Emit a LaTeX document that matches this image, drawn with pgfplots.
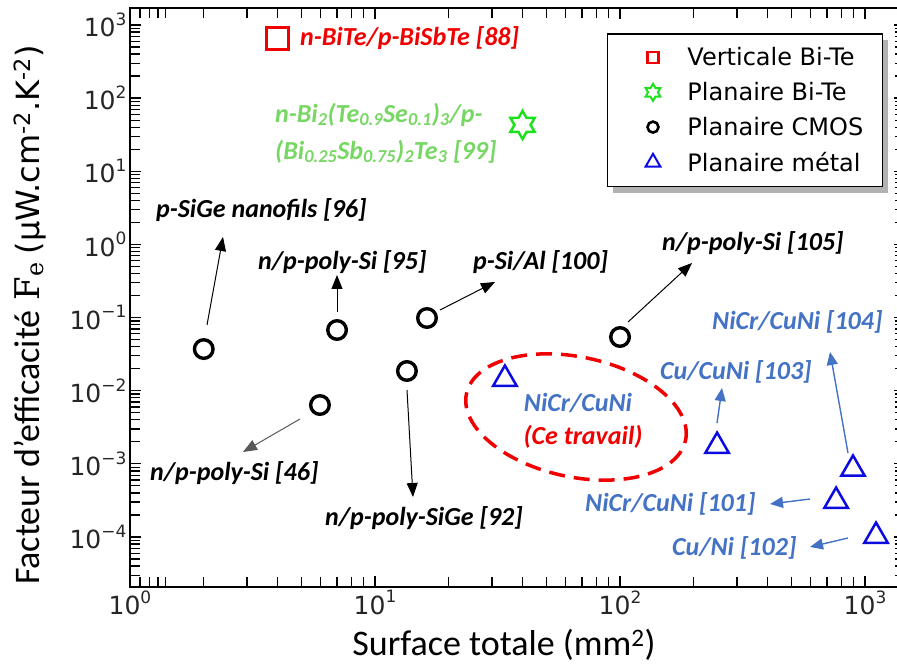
\documentclass[border=0pt]{standalone}
\usepackage{fontspec}
\usepackage{pgfplots}
\pgfplotsset{compat=1.18}
\usetikzlibrary{arrows.meta,shadows}
\setmainfont{DejaVu Sans}
\newfontfamily\carl{Carlito}
\newfontfamily\dvs{DejaVu Sans}
\newfontfamily\dvserif{DejaVu Serif}

\definecolor{mred}{RGB}{240,0,0}
\definecolor{mgreen}{RGB}{30,225,30}
\definecolor{lgreen}{RGB}{120,215,100}
\definecolor{mblue}{RGB}{10,10,225}
\definecolor{tblue}{RGB}{68,114,196}

\pgfdeclareplotmark{hexagram}{%
  \pgfpathmoveto{\pgfpointpolar{90}{\pgfplotmarksize}}%
  \pgfpathlineto{\pgfpointpolar{120}{0.5774*\pgfplotmarksize}}%
  \pgfpathlineto{\pgfpointpolar{150}{\pgfplotmarksize}}%
  \pgfpathlineto{\pgfpointpolar{180}{0.5774*\pgfplotmarksize}}%
  \pgfpathlineto{\pgfpointpolar{210}{\pgfplotmarksize}}%
  \pgfpathlineto{\pgfpointpolar{240}{0.5774*\pgfplotmarksize}}%
  \pgfpathlineto{\pgfpointpolar{270}{\pgfplotmarksize}}%
  \pgfpathlineto{\pgfpointpolar{300}{0.5774*\pgfplotmarksize}}%
  \pgfpathlineto{\pgfpointpolar{330}{\pgfplotmarksize}}%
  \pgfpathlineto{\pgfpointpolar{0}{0.5774*\pgfplotmarksize}}%
  \pgfpathlineto{\pgfpointpolar{30}{\pgfplotmarksize}}%
  \pgfpathlineto{\pgfpointpolar{60}{0.5774*\pgfplotmarksize}}%
  \pgfpathclose
  \pgfusepathqstroke
}

\newcommand\tl[1]{10\raisebox{0.45em}{\fontsize{17}{17}\selectfont #1}}
\newcommand\ann{\carl\bfseries\itshape\fontsize{26}{37}\selectfont}

\begin{document}
\begin{tikzpicture}
\begin{axis}[
  at={(130pt,79pt)}, anchor=south west,
  scale only axis, width=775pt, height=579pt,
  xmode=log, ymode=log,
  xmin=1, xmax=1456, ymin=2.07e-5, ymax=1708,
  axis line style={line width=1.8pt},
  tick style={line width=1.3pt, black},
  major tick length=11pt, minor tick length=10pt,
  tick align=inside,
  xtick={1,10,100,1000}, xticklabels={\tl{0},\tl{1},\tl{2},\tl{3}},
  minor xtick={1.1,1.2,1.3,1.4,2,3,4,5,6,7,8,9,20,30,40,50,60,70,80,90,200,300,400,500,600,700,800,900},
  ytick={1e-4,1e-3,1e-2,1e-1,1,10,100,1000},
  yticklabels={\tl{−4},\tl{−3},\tl{−2},\tl{−1},\tl{0},\tl{1},\tl{2},\tl{3}},
  minor ytick={3e-5,4e-5,5e-5,6e-5,7e-5,8e-5,9e-5,2e-4,3e-4,4e-4,5e-4,6e-4,7e-4,8e-4,9e-4,2e-3,3e-3,4e-3,5e-3,6e-3,7e-3,8e-3,9e-3,0.02,0.03,0.04,0.05,0.06,0.07,0.08,0.09,0.2,0.3,0.4,0.5,0.6,0.7,0.8,0.9,2,3,4,5,6,7,8,9,20,30,40,50,60,70,80,90,200,300,400,500,600,700,800,900},
  tick label style={font=\dvs\fontsize{25}{30}\selectfont, text=black!85},
  legend cell align=left,
  legend image code/.code={\pgfpathmoveto{\pgfqpoint{0pt}{0pt}}\pgfpathmoveto{\pgfqpoint{61pt}{0pt}}\pgfusepath{}\draw[#1] plot coordinates {(28.5pt,0pt)};},
  legend style={at={(0.9716,0.9568)}, anchor=north east, draw=black, line width=1.5pt, fill=white,
    drop shadow={shadow xshift=6pt, shadow yshift=-6pt, fill=black!30, opacity=1},
    font=\dvs\fontsize{24}{28}\selectfont, inner xsep=17pt, inner ysep=12pt, row sep=11pt},
]
\addlegendimage{only marks, mark=square, mark size=5.5pt, draw=mred, mark options={line width=2.2pt}}
\addlegendentry{Verticale Bi-Te}
\addlegendimage{only marks, mark=hexagram, mark size=8.5pt, draw=mgreen, mark options={line width=2pt}}
\addlegendentry{Planaire Bi-Te}
\addlegendimage{only marks, mark=o, mark size=5.5pt, draw=black, mark options={line width=2.6pt}}
\addlegendentry{Planaire CMOS}
\addlegendimage{only marks, mark=triangle, mark size=8.5pt, draw=mblue, mark options={line width=2pt}}
\addlegendentry{Planaire métal}

\addplot[only marks, mark=square, mark size=11pt, draw=mred, mark options={line width=3pt}, forget plot] coordinates {(4.0,660)};
\addplot[only marks, mark=hexagram, mark size=14pt, draw=mgreen, mark options={line width=2.5pt}, forget plot] coordinates {(40,43)};
\addplot[only marks, mark=o, mark size=9.3pt, draw=black, mark options={line width=3.4pt}, forget plot] coordinates {(2.0,0.0371) (5.96,0.00637) (7.0,0.0676) (13.5,0.0186) (16.3,0.0986) (100,0.0542)};
\addplot[only marks, mark=triangle, mark size=13.5pt, draw=mblue, mark options={line width=2.5pt}, forget plot] coordinates {(33.9,0.01445) (249,0.00175) (893,0.000851) (762,0.000310) (1109,0.000103)};
\end{axis}

\begin{scope}[x=1pt,y=-1pt,shift={(0pt,666pt)}]
% axis labels
\node[font=\carl\fontsize{36}{40}\selectfont] at (504,645) {Surface totale (mm\textsuperscript{2})};
\node[rotate=90] at (30,315) {{\carl\fontsize{36}{40}\selectfont Facteur d’efficacité}\hspace{10pt}{\dvserif\fontsize{34}{40}\selectfont F\textsubscript{e}}\hspace{8pt}{\dvs\fontsize{32}{40}\selectfont (µW.cm\textsuperscript{-2}.K\textsuperscript{-2})}};

% annotations
\node[anchor=west, text=mred, font=\ann, inner sep=0pt] at (300,38) {n-BiTe/p-BiSbTe [88]};
\node[anchor=west, align=left, text=lgreen, font=\ann, inner sep=0pt] at (275,133) {n-Bi\textsubscript{2}(Te\textsubscript{0.9}Se\textsubscript{0.1})\textsubscript{3}/p-\\(Bi\textsubscript{0.25}Sb\textsubscript{0.75})\textsubscript{2}Te\textsubscript{3} [99]};

\node[anchor=west, font=\ann, inner sep=0pt] at (156,210) {p-SiGe nanofils [96]};
\node[anchor=west, font=\ann, inner sep=0pt] at (258,262) {n/p-poly-Si [95]};
\node[anchor=west, font=\ann, inner sep=0pt] at (473,262) {p-Si/Al [100]};
\node[anchor=west, font=\ann, inner sep=0pt] at (662,243) {n/p-poly-Si [105]};
\node[anchor=west, font=\ann, inner sep=0pt] at (150,473) {n/p-poly-Si [46]};
\node[anchor=west, font=\ann, inner sep=0pt] at (325,518) {n/p-poly-SiGe [92]};

\node[anchor=west, text=tblue, font=\ann, inner sep=0pt] at (660,372) {Cu/CuNi [103]};
\node[anchor=west, text=tblue, font=\ann, inner sep=0pt] at (712,322) {NiCr/CuNi [104]};
\node[anchor=west, text=tblue, font=\ann, inner sep=0pt] at (585,504) {NiCr/CuNi [101]};
\node[anchor=west, text=tblue, font=\ann, inner sep=0pt] at (672,548) {Cu/Ni [102]};
\node[text=tblue, font=\ann, inner sep=0pt] at (578,403) {NiCr/CuNi};
\node[text=mred, font=\ann, inner sep=0pt] at (583,437) {(Ce travail)};

\draw[mred, line width=3.5pt, dash pattern=on 16pt off 9pt, rotate around={-12:(576,417)}] (576,417) ellipse [x radius=112pt, y radius=60pt];

% arrows
\begin{scope}[line width=1pt, -{Triangle[length=14pt,width=11pt]}]
\draw (207,325) -- (223,237);
\draw (337,312) -- (337,275);
\draw (440,310) -- (495,282);
\draw (628,322) -- (692,263);
\draw[black!65] (300,419) -- (243,452);
\draw (407,390) -- (413,497);
\end{scope}
\begin{scope}[tblue, line width=1.4pt, -{Triangle[length=13pt,width=11pt]}]
\draw (717,423) -- (722,388);
\draw (848,453) -- (830,352);
\draw (810,499) -- (770,504);
\draw (848,538) -- (810,547);
\end{scope}
\end{scope}

\pgfresetboundingbox
\path (0pt,0pt) rectangle (897pt,666pt);
\end{tikzpicture}
\end{document}
